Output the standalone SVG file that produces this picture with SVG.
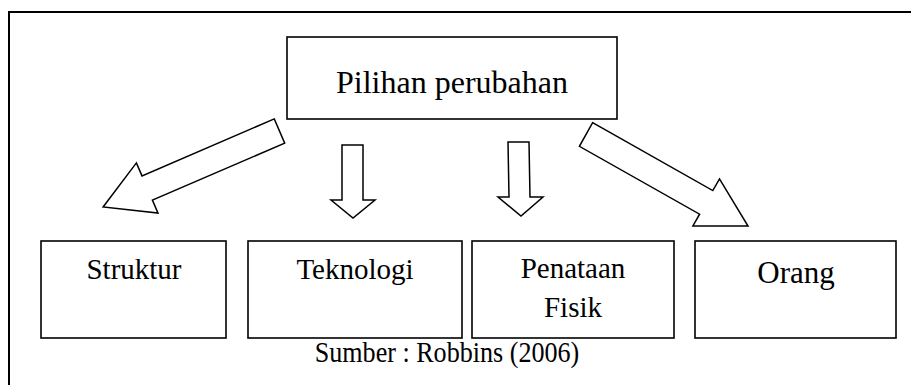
<svg xmlns="http://www.w3.org/2000/svg" width="911" height="385" viewBox="0 0 911 385">
<style>
.box{fill:#fff;stroke:#000;stroke-width:1.6}
.arr{fill:#fff;stroke:#000;stroke-width:1.5;stroke-linejoin:miter}
.t{font-family:"Liberation Serif","Times New Roman",serif;font-size:29px;fill:#000;text-anchor:middle}
</style>
<rect width="911" height="385" fill="#fff"/>
<rect x="9" y="12" width="920" height="400" fill="none" stroke="#000" stroke-width="2"/>
<g id="pilihan">
<rect class="box" x="287" y="37" width="330" height="82"/>
<text class="t" x="452" y="93" style="font-size:32px">Pilihan perubahan</text>
</g>
<g id="connectors">
<polygon class="arr" points="274.3,118.9 142,175.9 136.4,162.9 103.1,207 158,213.1 152.4,200.1 284.7,143.1"/>
<polygon class="arr" points="342,145 363,145 363,200 375,200 353,218 331,200 342,200"/>
<polygon class="arr" points="508,142 529,142 530,197 543,197 521,216 498,197 509,197"/>
<polygon class="arr" points="592.6,122.7 712.8,190.6 719.5,178.9 748,226 692.9,225.9 699.6,214.2 579.4,146.3"/>
</g>
<g id="struktur">
<rect class="box" x="41" y="241" width="185" height="97"/>
<text class="t" x="134" y="279">Struktur</text>
</g>
<g id="teknologi">
<rect class="box" x="248" y="241" width="214" height="97"/>
<text class="t" x="355" y="279">Teknologi</text>
</g>
<g id="penataan">
<rect class="box" x="472" y="241" width="202" height="97"/>
<text class="t" x="573" y="278">Penataan</text>
<text class="t" x="573" y="317">Fisik</text>
</g>
<g id="orang">
<rect class="box" x="695" y="241" width="201" height="97"/>
<text class="t" x="796" y="283" style="font-size:31px">Orang</text>
</g>
<text class="t" x="0" y="0" transform="translate(447,362) scale(0.9,1)">Sumber : Robbins (2006)</text>
</svg>
